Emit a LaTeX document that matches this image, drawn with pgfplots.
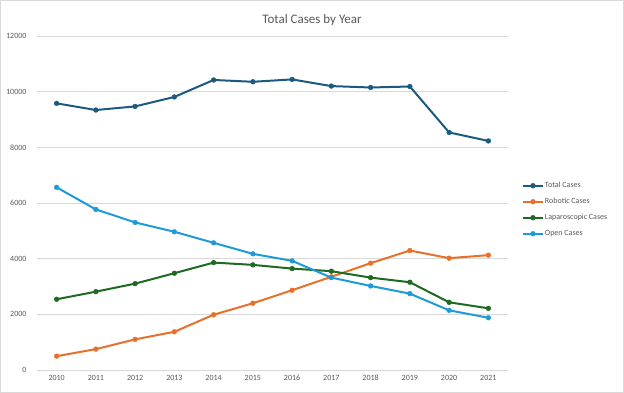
\documentclass[border=0pt]{standalone}
\usepackage{pgfplots}
\pgfplotsset{compat=1.18}
\usepackage{fontspec}
\setmainfont{Carlito}
\definecolor{cTotal}{HTML}{1B5A7E}
\definecolor{cRob}{HTML}{E8702A}
\definecolor{cLap}{HTML}{1D6A20}
\definecolor{cOpen}{HTML}{1E9BD7}
\definecolor{cGrid}{HTML}{D9D9D9}
\definecolor{cText}{HTML}{595959}
\begin{document}
\begin{tikzpicture}
\path[use as bounding box] (0,0) rectangle (624pt,393pt);
\draw[cGrid, line width=1pt] (0.5pt,0.5pt) rectangle (623.5pt,392.5pt);
\node[font=\fontsize{13}{15}\selectfont, text=cText] at (312pt,373pt) {Total Cases by Year};
\begin{axis}[
  at={(37pt,23pt)}, anchor=south west,
  width=471pt, height=334pt, scale only axis,
  xmin=2009.5, xmax=2021.5, ymin=0, ymax=12000,
  xtick={2010,...,2021}, ytick={0,2000,...,12000},
  /pgf/number format/.cd, 1000 sep={}, assume math mode=true, /pgfplots/.cd,
  scaled y ticks=false,
  axis lines*=left,
  y axis line style={draw=none},
  x axis line style={draw=cGrid, line width=0.8pt},
  major tick length=0pt,
  ymajorgrids, major grid style={cGrid, line width=0.8pt},
  tick label style={font=\fontsize{8}{9}\selectfont, text=cText},
  yticklabel style={xshift=-7pt},
  xticklabel style={yshift=-2pt},
  every axis plot/.append style={line width=2pt, mark=*, mark size=2.4pt, mark options={line width=0.4pt}},
  legend image code/.code={\draw[mark repeat=2,mark phase=2] plot coordinates {(0pt,0pt)(10pt,0pt)(20pt,0pt)};},
  legend style={at={(1.0297,0.563)}, anchor=north west, draw=none, fill=none,
    inner sep=0pt, outer sep=0pt, row sep=8.5pt, column sep=1pt,
    font=\fontsize{8}{9}\selectfont, text=cText,
    nodes={inner sep=0pt, text height=6pt, text depth=1.5pt}},
  legend cell align=left,
]
\addplot[cTotal] coordinates {(2010,9580)(2011,9340)(2012,9470)(2013,9810)(2014,10420)(2015,10355)(2016,10440)(2017,10200)(2018,10150)(2019,10185)(2020,8535)(2021,8230)};
\addlegendentry{Total Cases}
\addplot[cRob] coordinates {(2010,497)(2011,750)(2012,1100)(2013,1373)(2014,1986)(2015,2398)(2016,2866)(2017,3350)(2018,3838)(2019,4292)(2020,4018)(2021,4126)};
\addlegendentry{Robotic Cases}
\addplot[cLap] coordinates {(2010,2541)(2011,2814)(2012,3103)(2013,3477)(2014,3859)(2015,3777)(2016,3643)(2017,3550)(2018,3319)(2019,3153)(2020,2432)(2021,2216)};
\addlegendentry{Laparoscopic Cases}
\addplot[cOpen] coordinates {(2010,6562)(2011,5769)(2012,5301)(2013,4966)(2014,4569)(2015,4173)(2016,3921)(2017,3319)(2018,3020)(2019,2743)(2020,2144)(2021,1877)};
\addlegendentry{Open Cases}
\end{axis}
\end{tikzpicture}
\end{document}
